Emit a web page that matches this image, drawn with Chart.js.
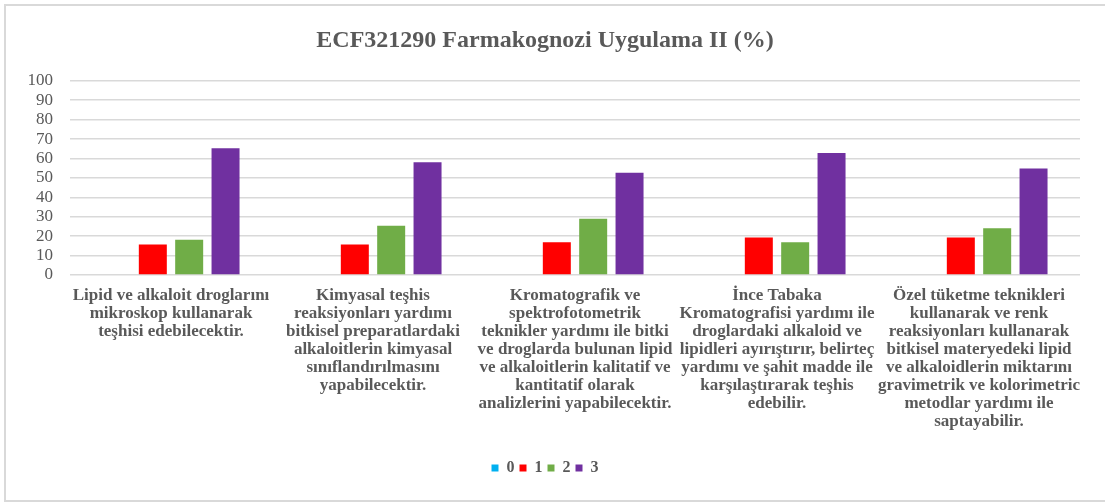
<!DOCTYPE html>
<html>
<head>
<meta charset="utf-8">
<script src="https://cdn.jsdelivr.net/npm/chart.js@4/dist/chart.umd.min.js"></script>
<style>
    body { margin: 0; background: #ffffff; }
    #wrap { position: relative; width: 1105px; height: 504px; }
</style>
</head>
<body>
<div id="wrap"><canvas id="scoreChart"></canvas></div>
<script>
// Category labels, already broken into lines as they show in the picture
const categories = [
    ['Lipid ve alkaloit droglarını', 'mikroskop kullanarak', 'teşhisi edebilecektir.'],
    ['Kimyasal teşhis', 'reaksiyonları yardımı', 'bitkisel preparatlardaki', 'alkaloitlerin kimyasal', 'sınıflandırılmasını', 'yapabilecektir.'],
    ['Kromatografik ve', 'spektrofotometrik', 'teknikler yardımı ile bitki', 've droglarda bulunan lipid', 've alkaloitlerin kalitatif ve', 'kantitatif olarak', 'analizlerini yapabilecektir.'],
    ['İnce Tabaka', 'Kromatografisi yardımı ile', 'droglardaki alkaloid ve', 'lipidleri ayırıştırır, belirteç', 'yardımı ve şahit madde ile', 'karşılaştırarak teşhis', 'edebilir.'],
    ['Özel tüketme teknikleri', 'kullanarak ve renk', 'reaksiyonları kullanarak', 'bitkisel materyedeki lipid', 've alkaloidlerin miktarını', 'gravimetrik ve kolorimetric', 'metodlar yardımı ile', 'saptayabilir.']
];

const seriesNames = ['0', '1', '2', '3'];
const score0 = [0, 0, 0, 0, 0];
const score1 = [15.7, 15.7, 16.9, 19.3, 19.3];
const score2 = [18.1, 25.4, 29.0, 16.9, 24.1];
const score3 = [65.3, 58.0, 52.6, 62.8, 54.9];

const yTicks = [0, 10, 20, 30, 40, 50, 60, 70, 80, 90, 100];

const colors = ['#00B0F0', '#FF0000', '#70AD47', '#7030A0'];
const textGray = '#595959';
const serif = '"Liberation Serif", "Times New Roman", serif';

// light frame around the whole chart
const framePlugin = {
    id: 'frame',
    beforeDraw(chart) {
        const ctx = chart.ctx;
        ctx.save();
        ctx.fillStyle = '#ffffff';
        ctx.fillRect(0, 0, chart.width, chart.height);
        ctx.strokeStyle = '#d9d9d9';
        ctx.lineWidth = 2;
        ctx.strokeRect(5, 5, chart.width + 10, chart.height - 8);
        ctx.restore();
    }
};

const allScores = [score0, score1, score2, score3];
const ctx = document.getElementById('scoreChart').getContext('2d');
const chart = new Chart(ctx, {
    type: 'bar',
    data: {
        labels: categories,
        datasets: seriesNames.map((name, i) => ({
            label: name,
            data: allScores[i],
            backgroundColor: colors[i],
            borderWidth: 0,
            categoryPercentage: 0.72,
            barPercentage: 0.77
        }))
    },
    options: {
        responsive: true,
        maintainAspectRatio: false,
        animation: false,
        layout: {
            padding: { left: 10, right: 25, top: 20, bottom: 18 }
        },
        scales: {
            x: {
                grid: { display: false, drawTicks: false },
                border: { display: false },
                ticks: {
                    autoSkip: false,
                    maxRotation: 0,
                    minRotation: 0,
                    padding: 12,
                    color: textGray,
                    font: { family: serif, size: 17, weight: 'bold', lineHeight: '18px' }
                },
                afterFit(scale) { scale.height = 180; }
            },
            y: {
                min: 0,
                max: 100,
                afterBuildTicks(scale) { scale.ticks = yTicks.map(v => ({ value: v })); },
                grid: { color: '#d9d9d9', lineWidth: 1.5, drawTicks: false },
                border: { display: false },
                ticks: {
                    autoSkip: false,
                    padding: 17,
                    color: textGray,
                    font: { family: serif, size: 17, lineHeight: 1 }
                },
                afterFit(scale) { scale.width = 60; }
            }
        },
        plugins: {
            title: {
                display: true,
                text: 'ECF321290 Farmakognozi Uygulama II (%)',
                color: textGray,
                font: { family: serif, size: 24, weight: 'bold', lineHeight: 1.2 },
                padding: { top: 6, bottom: 26 }
            },
            legend: {
                position: 'bottom',
                labels: {
                    boxWidth: 7,
                    boxHeight: 7,
                    padding: 5,
                    color: textGray,
                    font: { family: serif, size: 16, weight: 'bold' }
                }
            },
            tooltip: {
                callbacks: {
                    title: items => items[0].label.replace(/,/g, ' ')
                }
            }
        }
    },
    plugins: [framePlugin]
});
</script>
</body>
</html>
